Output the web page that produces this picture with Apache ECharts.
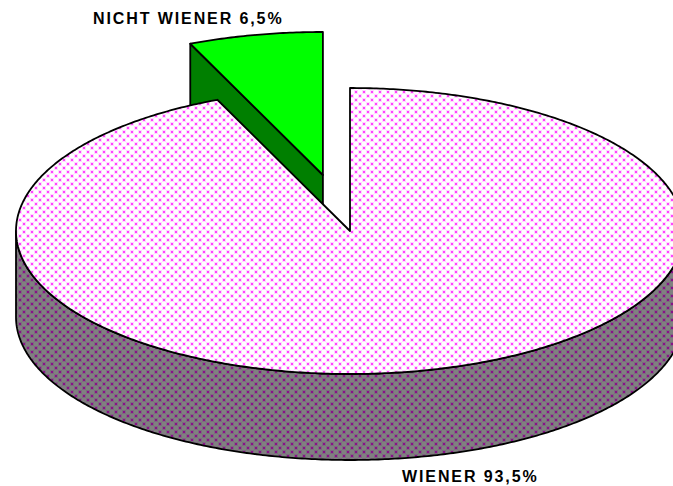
<!DOCTYPE html>
<html>
<head>
<meta charset="utf-8">
<script src="https://cdn.jsdelivr.net/npm/echarts@6/dist/echarts.min.js"></script>
<style>
html, body { margin: 0; padding: 0; background: #fff; overflow: hidden; }
#chart { width: 673px; height: 486px; }
/* zrender has no letter spacing of its own, the labels are wide-set in the original */
#chart text { letter-spacing: 1.9px; }
</style>
</head>
<body>
<div id="chart"></div>
<script>
// drawn in this order, the green slice has to sit behind the big one
const categories = ["NICHT WIENER", "WIENER"]
const values = [6.5, 93.5]
const explode = [0.4, 0]

const cx = 350, cy = 231, rx = 334, ry = 143, depth = 86
const labelPos = [[93, 18], [402, 476]]

// dotted fill, 8px cell with staggered dots
function dots(bg, halo, dot) {
	const c = document.createElement("canvas")
	c.width = 8
	c.height = 8
	const g = c.getContext("2d")
	g.fillStyle = bg
	g.fillRect(0, 0, 8, 8)
	;[[3, 3], [7, 7]].forEach(p => {
		for (let dx = -8; dx <= 8; dx += 8) {
			for (let dy = -8; dy <= 8; dy += 8) {
				g.fillStyle = halo
				g.fillRect(p[0] - 1 + dx, p[1] - 1 + dy, 4, 4)
				g.fillStyle = dot
				g.fillRect(p[0] + dx, p[1] + dy, 2, 2)
			}
		}
	})
	return { image: c, repeat: "repeat" }
}

const topFills = [{ fill: "#00ff00", side: "#007f00" }, { fill: dots("#ffffff", "#ffd8ff", "#ff44ff"), side: dots("#808080", "#7c6a7e", "#8a108a") }]

// slices run clockwise from 12 o'clock: WIENER first, then NICHT WIENER
const total = values.reduce((a, b) => a + b, 0)
function sliceAngles(i) {
	const frac = values[i] / total * 2 * Math.PI
	const wien = values[1] / total * 2 * Math.PI
	return i === 1 ? [0, wien] : [wien, wien + frac]
}

function pt(a, ox, oy, down) {
	return [cx + ox + rx * Math.sin(a), cy + oy - ry * Math.cos(a) + (down || 0)]
}

function arc(a0, a1, ox, oy, down) {
	const pts = []
	const n = Math.ceil(Math.abs(a1 - a0) / 0.01)
	for (let k = 0; k <= n; k++) {
		pts.push(pt(a0 + (a1 - a0) * k / n, ox, oy, down))
	}
	return pts
}

const line = { stroke: "#000", lineWidth: 1.8, lineJoin: "round" }

const option = {
	backgroundColor: "#fff",
	animation: false,
	series: [
		{
			type: "custom",
			coordinateSystem: "none",
			silent: true,
			data: values.map((v, i) => ({ name: categories[i], value: [v] })),
			renderItem: function (params, api) {
				const i = params.dataIndex
				const ang = sliceAngles(i)
				const mid = (ang[0] + ang[1]) / 2
				const ox = explode[i] * rx * Math.sin(mid)
				const oy = -explode[i] * ry * Math.cos(mid)
				const style = topFills[i]
				const centre = [cx + ox, cy + oy]
				const children = []

				// outer wall, only the front half of the rim can be seen
				const f0 = Math.max(ang[0], Math.PI / 2)
				const f1 = Math.min(ang[1], Math.PI * 1.5)
				if (f1 > f0) {
					children.push({
						type: "polygon",
						shape: { points: arc(f0, f1, ox, oy, 0).concat(arc(f1, f0, ox, oy, depth)) },
						style: { fill: style.side, ...line }
					})
				}

				// cut wall of the start edge (faces the viewer on the exploded slice)
				if (explode[i] > 0) {
					const a = pt(ang[0], ox, oy)
					children.push({
						type: "polygon",
						shape: { points: [a, centre, [centre[0], centre[1] + depth], [a[0], a[1] + depth]] },
						style: { fill: style.side, ...line }
					})
				}

				children.push({
					type: "polygon",
					shape: { points: [centre].concat(arc(ang[0], ang[1], ox, oy, 0)) },
					style: { fill: style.fill, ...line }
				})

				children.push({
					type: "text",
					style: {
						text: categories[i] + " " + String(api.value(0)).replace(".", ",") + "%",
						x: labelPos[i][0],
						y: labelPos[i][1],
						font: "bold 16px 'Liberation Sans', Arial, sans-serif",
						fill: "#000",
						verticalAlign: "middle"
					}
				})
				return { type: "group", children: children }
			}
		}
	]
}

const chart = echarts.init(document.getElementById("chart"), null, { renderer: "svg" })
chart.setOption(option)
</script>
</body>
</html>
